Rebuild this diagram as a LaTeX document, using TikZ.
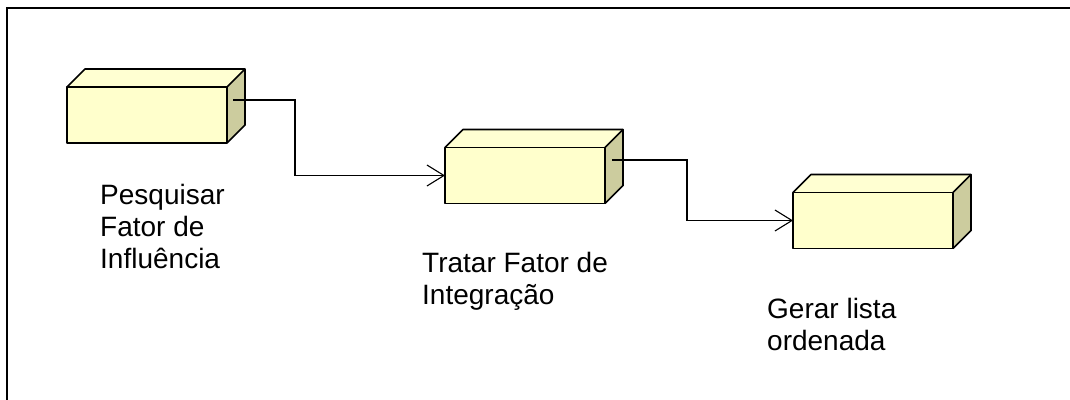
\documentclass[tikz,border=0pt]{standalone}
\usepackage{fontspec}
\setmainfont{Liberation Sans}
\usetikzlibrary{arrows.meta,calc}
\definecolor{boxfront}{HTML}{FFFFCC}
\definecolor{boxtop}{HTML}{FFFFD2}
\definecolor{boxside}{HTML}{CCCC9E}
\tikzset{
  face/.style={rectangle, fill=boxfront,
    minimum width=160pt, minimum height=56pt, inner sep=0pt, outer sep=0pt},
  edge3d/.style={line width=1.7pt, line join=round},
  conn/.style={line width=1.1pt, -{Straight Barb[length=17pt,width=21pt,line width=1.1pt]}},
  lbl/.style={anchor=base west, inner sep=0pt, align=left,
    font=\fontsize{28}{32}\selectfont},
  frame/.style={line width=2pt}
}
\newcommand{\cuboid}[1]{%
  \fill[boxtop] (#1.north west) -- ($(#1.north west)+(18pt,18pt)$) -- ($(#1.north east)+(18pt,18pt)$) -- (#1.north east) -- cycle;
  \fill[boxside] (#1.north east) -- ($(#1.north east)+(18pt,18pt)$) -- ($(#1.south east)+(18pt,18pt)$) -- (#1.south east) -- cycle;
  \draw[edge3d] (#1.north west) -- ($(#1.north west)+(18pt,18pt)$) -- ($(#1.north east)+(18pt,18pt)$) -- ($(#1.south east)+(18pt,18pt)$) -- (#1.south east);
  \draw[edge3d] (#1.north east) -- ($(#1.north east)+(18pt,18pt)$);
  \draw[edge3d] (#1.north west) rectangle (#1.south east);
}
\begin{document}
\begin{tikzpicture}[x=1pt,y=-1pt]
\useasboundingbox (0,0) rectangle (1070,399);
\fill[white] (0,0) rectangle (1070,399);
\draw[frame] (7,400) -- (7,8) -- (1071,8);

\node[face] (b1) at (147,115) {};
\node[face] (b2) at (525,175.5) {};
\node[face] (b3) at (873,220.5) {};
\cuboid{b1}
\cuboid{b2}
\cuboid{b3}

\coordinate (s1) at (233,100);
\coordinate (s2) at (612,160);

\draw[conn] (s1) -- (295,100) |- (b2.west);
\draw[conn] (s2) -- (687,160) |- (b3.west);

\node[lbl] (t1) at (100,268) {Pesquisar\\Fator de\\Influência};
\node[lbl] (t2) at (422,304) {Tratar Fator de\\Integração};
\node[lbl] (t3) at (767,350) {Gerar lista\\ordenada};
\end{tikzpicture}
\end{document}
